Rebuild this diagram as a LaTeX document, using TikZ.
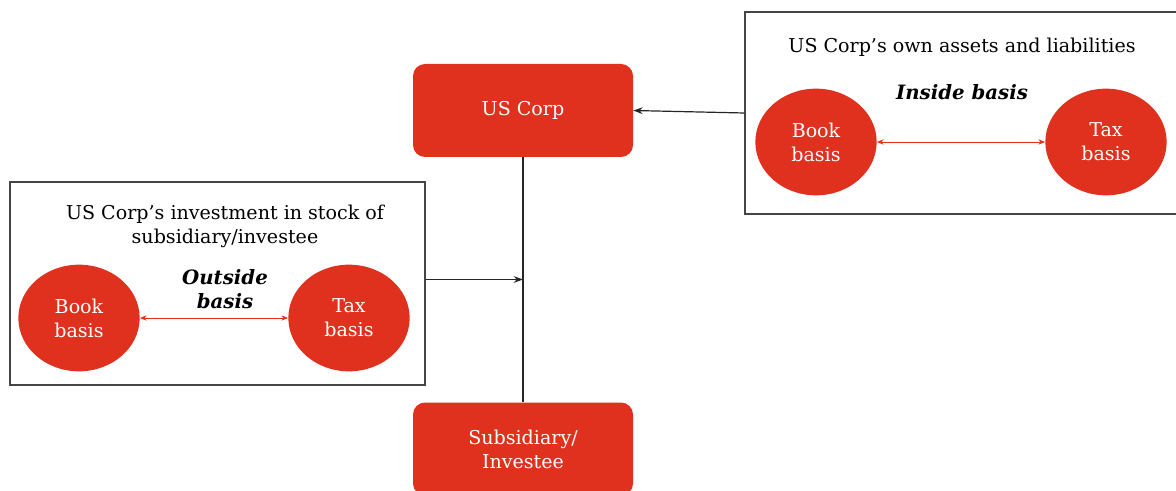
\documentclass[tikz,border=0pt]{standalone}
\usepackage{fontspec}
\setmainfont{DejaVu Serif}
\usetikzlibrary{arrows,arrows.meta,positioning,shapes.geometric}
\definecolor{corpred}{HTML}{E0301E}
\definecolor{framegray}{HTML}{454545}
\tikzset{
    %Define standard arrow tip
    >=stealth',
    %Define style for red boxes
    corpbox/.style={
           rectangle,
           rounded corners=9pt,
           fill=corpred,
           text=white,
           font=\fontsize{14.3}{18}\selectfont,
           minimum width=165pt,
           minimum height=69.75pt,
           align=center},
    %Define style for basis circles
    basiscirc/.style={
           ellipse,
           fill=corpred,
           text=white,
           font=\fontsize{14.3}{18}\selectfont,
           inner sep=0pt,
           minimum width=91pt,
           minimum height=80pt,
           align=center},
    %Define style for frames
    framebox/.style={
           rectangle,
           draw=framegray, line width=1.1pt,
           inner sep=0pt},
    % Define arrow style
    pil/.style={
           -{Stealth[length=7pt,width=5pt]},
           draw=black!85, line width=0.9pt},
    basispil/.style={
           {Stealth[length=5pt,width=4pt]}-{Stealth[length=5pt,width=4pt]},
           draw=corpred, line width=0.6pt}
}
\begin{document}
\begin{tikzpicture}[x=0.75pt,y=-0.75pt,
  every node/.style={font=\fontsize{14.3}{18}\selectfont}]
\useasboundingbox (0,0) rectangle (1176,491);
\clip (0,0) rectangle (1176,491);
% frames
\node[framebox, minimum width=311.25pt, minimum height=152.25pt](leftframe) at (217.5,283.5){};
\node[framebox, minimum width=330pt, minimum height=151.5pt](rightframe) at (965,113){};
% corporations
\node[corpbox](uscorp) at (523,110.5){US Corp};
\node[corpbox](subsid) at (523,449){Subsidiary/\\Investee};
% outside basis
\node[align=center](outtitle) at (225,226){US Corp’s investment in stock of\\subsidiary/investee};
\node[align=center, font=\fontsize{14.8}{18}\selectfont\bfseries\itshape](outlabel) at (225,289){Outside\\basis};
\node[basiscirc](outbook) at (79,318){Book\\basis};
\node[basiscirc](outtax) at (349,318){Tax\\basis};
% inside basis
\node(intitle) at (962,47){US Corp’s own assets and liabilities};
\node[font=\fontsize{14.8}{18}\selectfont\bfseries\itshape](inlabel) at (962,92){Inside basis};
\node[basiscirc](inbook) at (816,142){Book\\basis};
\node[basiscirc](intax) at (1106,142){Tax\\basis};
\coordinate (join) at ([yshift=3pt]uscorp.south |- leftframe.east);
\draw[draw=black!85, line width=0.9pt] (uscorp.south) -- (subsid.north);
\draw[pil] (rightframe.west) -- (uscorp.east);
\draw[pil] ([yshift=3pt]leftframe.east) -- (join);
\draw[basispil] (outbook) -- (outtax);
\draw[basispil] (inbook) -- (intax);
\end{tikzpicture}
\end{document}
